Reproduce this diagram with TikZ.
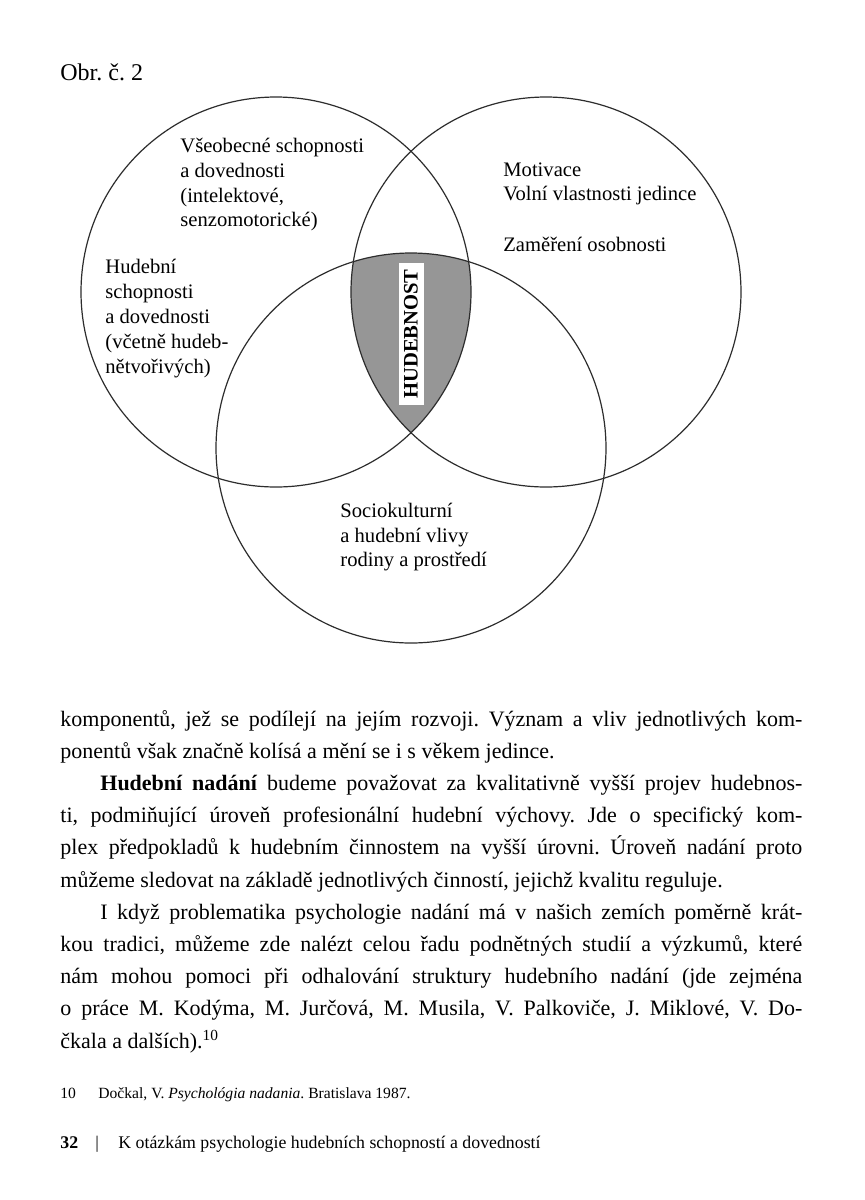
\documentclass[tikz,border=0pt]{standalone}
\usepackage{fontspec}
\setmainfont{Liberation Serif}
\definecolor{shadegray}{RGB}{150,150,150}
\definecolor{ink}{RGB}{45,45,45}
\newcommand{\jline}[2]{\makebox[#1][s]{#2}}
\frenchspacing
\begin{document}
\begin{tikzpicture}[x=0.5pt,y=-0.5pt,
  circ/.style={draw=ink, line width=0.6pt},
  dtext/.style={anchor=base west, inner sep=0pt, font=\fontsize{10.3}{12.5}\selectfont},
  btext/.style={anchor=base west, inner sep=0pt, font=\fontsize{11}{16}\selectfont},
  fntext/.style={anchor=base west, inner sep=0pt, font=\fontsize{7.8}{10}\selectfont},
  fttext/.style={anchor=base west, inner sep=0pt, font=\fontsize{8.9}{11}\selectfont},
  labelbox/.style={rotate=90, fill=white, inner sep=0pt, minimum width=71pt, minimum height=12.5pt, font=\bfseries\fontsize{10.3}{12}\selectfont}
]
\useasboundingbox[fill=white] (0,0) rectangle (864,1200);

\coordinate (A) at (276,292);
\coordinate (B) at (546,292);
\coordinate (C) at (411,448);

\begin{scope}
  \clip (A) circle[radius=97.5pt];
  \clip (B) circle[radius=97.5pt];
  \fill[shadegray] (C) circle[radius=97.5pt];
\end{scope}

\draw[circ] (A) circle[radius=97.5pt];
\draw[circ] (B) circle[radius=97.5pt];
\draw[circ] (C) circle[radius=97.5pt];

\node[labelbox] (hud) at (411,334) {HUDEBNOST};

\node[anchor=base west, inner sep=0pt, font=\fontsize{12}{14}\selectfont] (obr) at (60,80) {Obr. č. 2};

% circle A top text
\node[dtext] (va1) at (180,152) {Všeobecné schopnosti};
\node[dtext] (va2) at (180,177) {a dovednosti};
\node[dtext] (va3) at (180,202) {(intelektové,};
\node[dtext] (va4) at (180,226) {senzomotorické)};
% circle B text
\node[dtext] (mb1) at (503,176) {Motivace};
\node[dtext] (mb2) at (503,200) {Volní vlastnosti jedince};
\node[dtext] (mb3) at (503,251) {Zaměření osobnosti};
% circle A left text
\node[dtext] (ha1) at (105,273) {Hudební};
\node[dtext] (ha2) at (105,298) {schopnosti};
\node[dtext] (ha3) at (105,323) {a dovednosti};
\node[dtext] (ha4) at (105,348) {(včetně hudeb-};
\node[dtext] (ha5) at (105,373) {nětvořivých)};
% circle C text
\node[dtext] (sc1) at (340,517) {Sociokulturní};
\node[dtext] (sc2) at (340,542) {a hudební vlivy};
\node[dtext] (sc3) at (340,566) {rodiny a prostředí};

% body text
\node[btext] (t1) at (60,726) {\jline{371pt}{komponentů, jež se podílejí na jejím rozvoji. Význam a vliv jednotlivých kom-}};
\node[btext] (t2) at (60,758.2) {ponentů však značně kolísá a mění se i s věkem jedince.};
\node[btext] (t3) at (100,790.4) {\jline{351pt}{\textbf{Hudební nadání} budeme považovat za kvalitativně vyšší projev hudebnos-}};
\node[btext] (t4) at (60,822.6) {\jline{371pt}{ti, podmiňující úroveň profesionální hudební výchovy. Jde o specifický kom-}};
\node[btext] (t5) at (60,854.8) {\jline{371pt}{plex předpokladů k hudebním činnostem na vyšší úrovni. Úroveň nadání proto}};
\node[btext] (t6) at (60,887) {můžeme sledovat na základě jednotlivých činností, jejichž kvalitu reguluje.};
\node[btext] (t7) at (100,919.2) {\jline{351pt}{I když problematika psychologie nadání má v našich zemích poměrně krát-}};
\node[btext] (t8) at (60,951.4) {\jline{371pt}{kou tradici, můžeme zde nalézt celou řadu podnětných studií a výzkumů, které}};
\node[btext] (t9) at (60,983.6) {\jline{371pt}{nám mohou pomoci při odhalování struktury hudebního nadání (jde zejména}};
\node[btext] (t10) at (60,1015.8) {\jline{371pt}{o práce M. Kodýma, M. Jurčová, M. Musila, V. Palkoviče, J. Miklové, V. Do-}};
\node[btext] (t11) at (60,1048) {čkala a dalších).\textsuperscript{10}};

% footnote
\node[fntext] (fnum) at (60,1098) {10};
\node[fntext] (fnref) at (98,1098) {Dočkal, V. \textit{Psychológia nadania}. Bratislava 1987.};

% footer
\node[fttext] (pagenum) at (60,1148) {\textbf{32}};
\node[fttext] (bar) at (95,1148) {|};
\node[fttext] (runhead) at (118,1148) {K otázkám psychologie hudebních schopností a dovedností};
\end{tikzpicture}
\end{document}
